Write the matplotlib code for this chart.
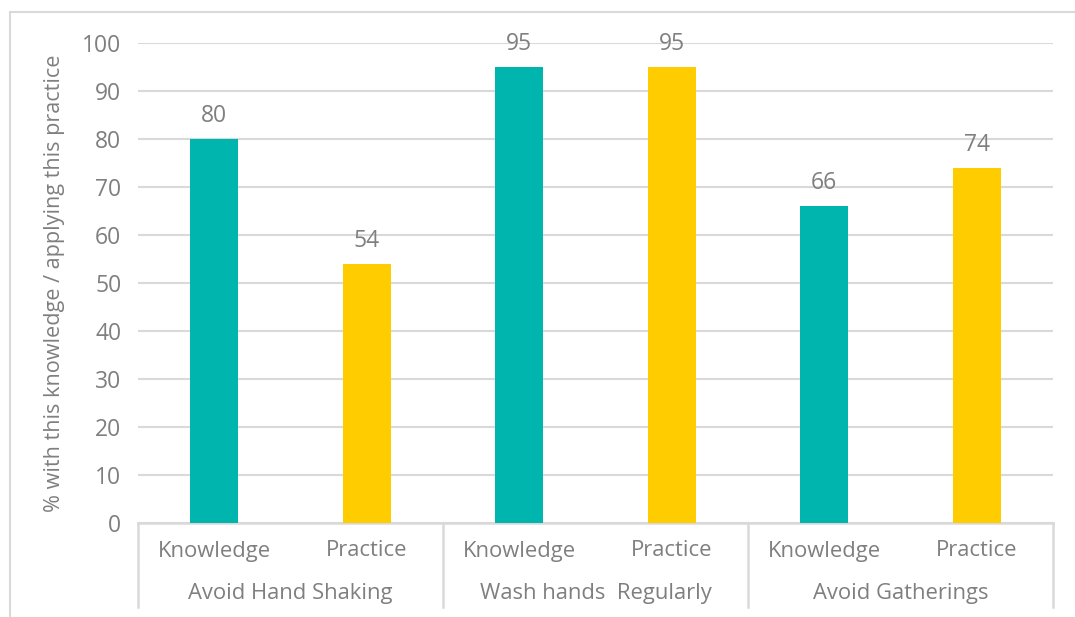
import matplotlib
matplotlib.use("Agg")
import matplotlib.pyplot as plt
from matplotlib.patches import Rectangle
from matplotlib.lines import Line2D
import matplotlib.transforms as mtransforms

groups = ["Avoid Hand Shaking", "Wash hands  Regularly", "Avoid Gatherings"]
subcats = ["Knowledge", "Practice"]
values = [80, 54, 95, 95, 66, 74]
colors_by_sub = {"Knowledge": "#00B5AD", "Practice": "#FFCC00"}
yticks = [0, 10, 20, 30, 40, 50, 60, 70, 80, 90, 100]
ylabel = "% with this knowledge / applying this practice"

plt.rcParams['font.family'] = ['Open Sans', 'DejaVu Sans']
TXT = "#7f7f7f"
GRID = "#d9d9d9"
FS = 15.8

W, H = 1075, 617
fig = plt.figure(figsize=(W/100, H/100), dpi=100)
ax = fig.add_axes([138/W, (H-523)/H, (1053-138)/W, (523-43)/H])

labels = [s for g in groups for s in subcats]
x = list(range(len(values)))
cols = [colors_by_sub[s] for s in labels]
ax.bar(x, values, width=0.315, color=cols, zorder=3)
ax.set_xlim(-0.5, len(values)-0.5)
ax.set_ylim(0, 100)
ax.set_yticks(yticks)
ax.tick_params(axis='y', length=0, pad=12, labelsize=16.5, labelcolor=TXT)
ax.set_xticks([])
ax.yaxis.grid(True, color=GRID, lw=1.5, zorder=0)
for s in ['top', 'right', 'left']:
    ax.spines[s].set_visible(False)
ax.spines['bottom'].set_color(GRID)
ax.spines['bottom'].set_linewidth(1.8)
ax.set_ylabel(ylabel, fontsize=15.6, color=TXT, labelpad=12)

for xi, v in zip(x, values):
    ax.annotate(f"{v}", (xi, v), xytext=(0, 11), textcoords='offset pixels',
                ha='center', va='bottom', fontsize=16.5, color=TXT)

trans = mtransforms.blended_transform_factory(ax.transData, ax.transAxes)
px = 1.0/(523-43)
for xi, lab in zip(x, labels):
    ax.text(xi, -(551-523)*px, lab, transform=trans, ha='center', va='center',
            fontsize=FS, color=TXT, clip_on=False)
for gi, g in enumerate(groups):
    ax.text(gi*2+0.5, -(593-523)*px, g, transform=trans, ha='center', va='center',
            fontsize=FS, color=TXT, clip_on=False)
for b in [-0.5, 1.5, 3.5, 5.5]:
    ax.add_line(Line2D([b, b], [0, -(607-523)*px], transform=trans, color=GRID,
                       lw=1.8, clip_on=False))

fig.patches.append(Rectangle((10/W, -0.1), 1.2, 1 - 12/H + 0.1, transform=fig.transFigure,
                             facecolor='none', edgecolor=GRID, lw=1.5))

fig.savefig("out.png", dpi=100)
